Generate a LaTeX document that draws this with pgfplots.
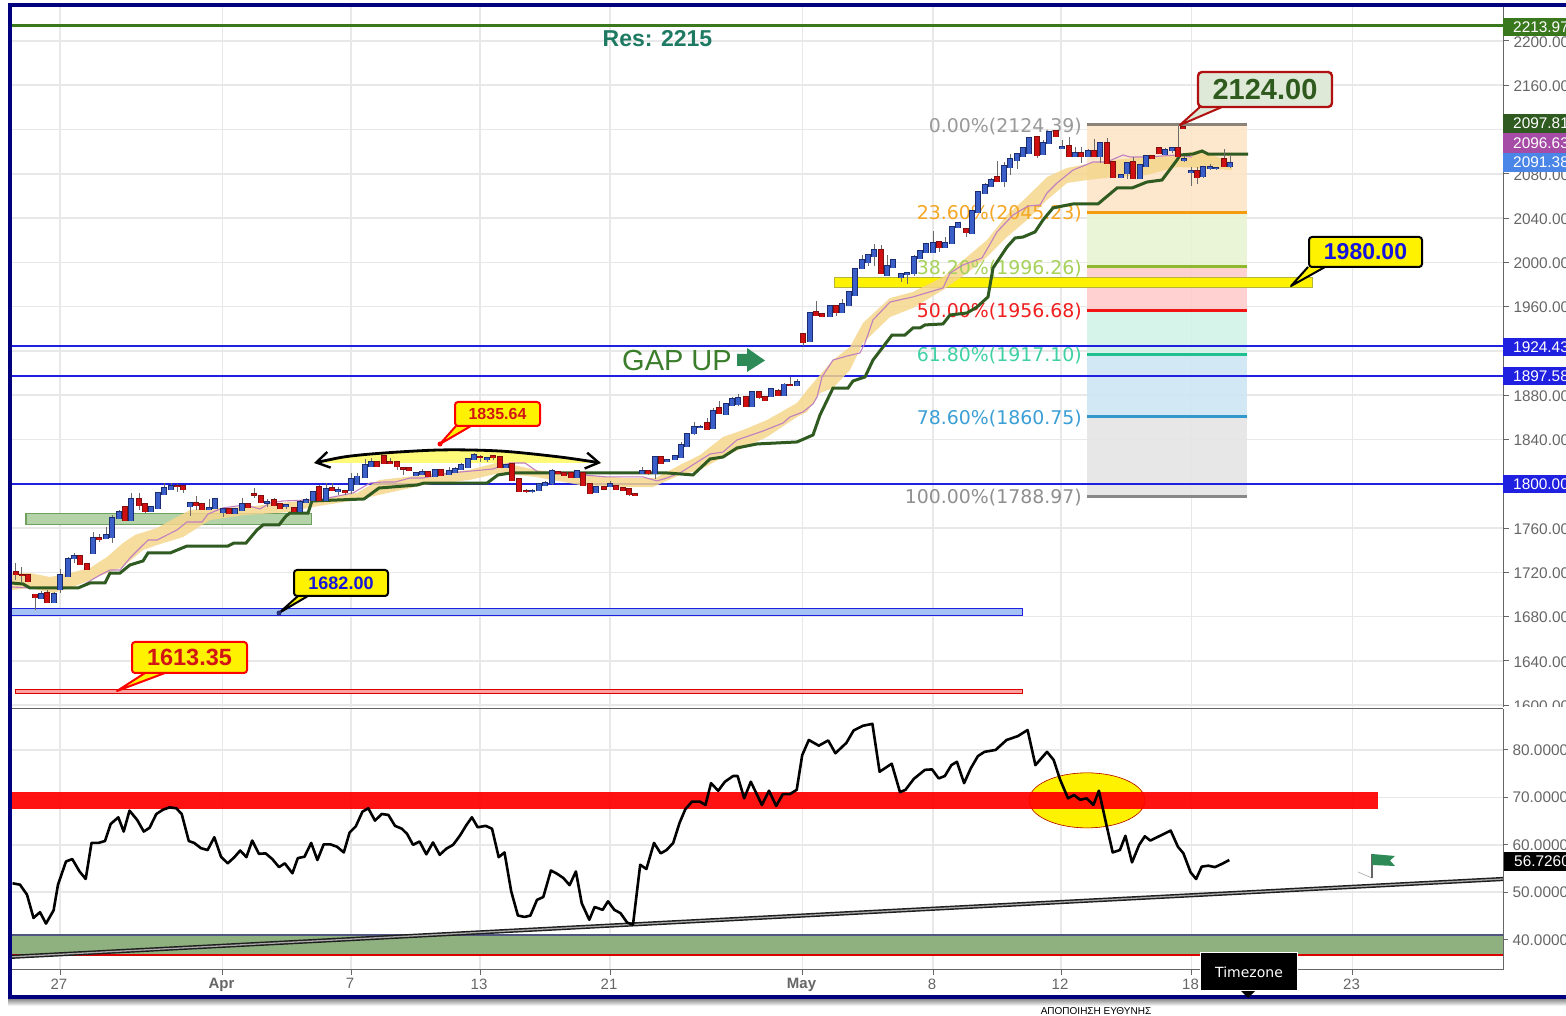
\documentclass[border=0pt]{standalone}
\usepackage{fontspec}
\setmainfont{Liberation Sans}
\newfontfamily\dejavu{DejaVu Sans}
\usepackage{pgfplots}
\usepackage{pgfplotstable}
\pgfplotsset{compat=1.18}
\usetikzlibrary{arrows.meta}
\definecolor{gridc}{HTML}{E8E8E8}
\definecolor{tickc}{HTML}{666666}
\definecolor{navyf}{HTML}{00007F}
\definecolor{wickc}{HTML}{6A6A6A}
\definecolor{bluef}{HTML}{3A5FC8}
\definecolor{bluee}{HTML}{1C2C70}
\definecolor{redf}{HTML}{D01010}
\definecolor{rede}{HTML}{801010}
\definecolor{ribbon}{HTML}{F5D68C}
\definecolor{pinkl}{HTML}{C07FC0}
\definecolor{greenl}{HTML}{2F5A20}
\definecolor{hline}{HTML}{2020E0}
\definecolor{f0}{HTML}{FDE5C8}
\definecolor{f1}{HTML}{E8F3D3}
\definecolor{f2}{HTML}{FFCCCC}
\definecolor{f3}{HTML}{D2F3E7}
\definecolor{f4}{HTML}{CFE6F5}
\definecolor{f5}{HTML}{E5E5E5}
\definecolor{l0}{HTML}{8C8278}
\definecolor{l1}{HTML}{F59B0F}
\definecolor{l2}{HTML}{8EB82E}
\definecolor{l3}{HTML}{F01414}
\definecolor{l4}{HTML}{1FBF90}
\definecolor{l5}{HTML}{3399CC}
\definecolor{l6}{HTML}{888888}
\definecolor{t0}{HTML}{999999}
\definecolor{t1}{HTML}{F5A623}
\definecolor{t2}{HTML}{A6D25A}
\definecolor{t3}{HTML}{F01E1E}
\definecolor{t4}{HTML}{3FD0A5}
\definecolor{t5}{HTML}{3B9FD6}
\definecolor{t6}{HTML}{8F8F8F}
\definecolor{resl}{HTML}{3A781E}
\definecolor{zoneg}{HTML}{B5D3A8}
\definecolor{zonege}{HTML}{6EA05F}
\definecolor{zoneb}{HTML}{A4C2F4}
\definecolor{zoner}{HTML}{FFA0A0}
\definecolor{zoney}{HTML}{B4B43C}
\definecolor{lens}{HTML}{FFFA78}
\definecolor{olive}{HTML}{8FB07F}
\definecolor{slate}{HTML}{505582}
\definecolor{trend}{HTML}{1E1E1E}
\definecolor{trendi}{HTML}{AAAAAA}
\definecolor{lpurple}{HTML}{A64CA6}
\definecolor{lblue}{HTML}{4A86E8}
\definecolor{restext}{HTML}{1E7A63}
\definecolor{gaptext}{HTML}{3A7D2A}
\definecolor{flag}{HTML}{2E8B57}
\definecolor{cdark}{HTML}{B01010}
\definecolor{cpale}{HTML}{DFE9D8}
\definecolor{ctext}{HTML}{2F5A1E}
\definecolor{cblue}{HTML}{1414DC}
\definecolor{cred}{HTML}{D21414}
\definecolor{cnavy}{HTML}{283278}
% blue candles: close above open
\pgfplotstableread{
x open high low close
41 1696.8 1703.2 1696.8 1700.5
54 1693.2 1702.3 1692.3 1700.5
60 1705 1723 1701.4 1717.6
68 1716.7 1733.9 1716.7 1732.1
74 1733 1737.5 1728.5 1734.8
93 1737.5 1756.5 1737.5 1751
106 1751 1761 1751 1753.8
112 1751.9 1771.8 1746.5 1769.1
119 1769.1 1776.3 1768.2 1774.5
131 1767.3 1791.7 1766.4 1786.3
151 1775.4 1780 1774.5 1779
158 1778.1 1792.6 1778.1 1791.7
164 1790.8 1800.7 1790.8 1796.2
171 1795.3 1800.7 1795.3 1798
190 1780 1783.6 1770.9 1782.7
209 1777.2 1786.3 1776.3 1778.1
215 1778.1 1787.2 1778.1 1786.3
223 1774.5 1778.1 1770 1777.2
235 1773.6 1778.1 1773.6 1777.2
242 1776.3 1787.2 1776.3 1781.8
267 1783.1 1786.3 1779 1784
286 1780 1781.8 1777.2 1780.9
300 1775.4 1785.4 1775.4 1783.6
306 1783.6 1787.2 1783.6 1785.4
313 1785.4 1793.5 1785.4 1792.6
326 1785.4 1800.7 1785.4 1795.3
338 1793.5 1797.1 1790 1794.4
351 1794.4 1809.8 1790.8 1804.3
357 1799.8 1809.8 1799.8 1807
365 1806.2 1822.4 1806.2 1817
371 1816.1 1823.3 1816.1 1819.7
416 1808 1810.7 1807.1 1809.8
422 1808.9 1813.4 1808.9 1810.7
435 1807.1 1813.4 1807.1 1812.5
449 1808.9 1815.2 1808.9 1811.6
455 1810.7 1815.2 1810.7 1813.4
461 1813.4 1818.8 1812.5 1817
468 1815.2 1823.3 1815.2 1822.4
474 1822.4 1827.8 1821.5 1826
487 1822.6 1824.2 1819.7 1823.3
506 1815.2 1817.9 1814.3 1817
532 1793.3 1795.3 1791.7 1794
539 1794.4 1800.7 1794.4 1799.8
545 1798.9 1802.5 1798.9 1800.7
552 1800.7 1813.4 1798.9 1811.6
577 1806.2 1812.5 1806.2 1811.6
596 1792.6 1798 1792.6 1797.1
610 1798 1802.5 1797.1 1799.8
642 1809.8 1815.2 1808.9 1811.6
655 1809.8 1824.2 1804.3 1824.2
667 1820.6 1822.4 1820.6 1821.5
675 1822.4 1826 1822.4 1825.1
681 1824.2 1837.8 1823.3 1835.1
687 1834.2 1845.9 1834.2 1845
694 1845.9 1855.8 1844.1 1851.3
700 1851 1853.1 1850.9 1851.8
713 1850.4 1868.5 1850.4 1865.8
726 1863.1 1873 1863.1 1872.1
732 1871.2 1878.4 1871.2 1876.6
738 1872.1 1881.1 1870.3 1877.5
752 1870.3 1883.8 1870.3 1882.9
771 1879.3 1886.5 1879.3 1885.6
784 1880.2 1891 1879.3 1890.1
797 1889.3 1894.7 1889.3 1892
810 1929 1955.2 1928.1 1954.3
830 1951.6 1961.5 1951.6 1960.6
842 1955.2 1966.9 1954.3 1962.4
849 1961.5 1974.2 1961.5 1973.3
855 1970.6 1995 1969.7 1994.1
862 1995 2006.7 1995 2002.2
868 2000.4 2006.7 1996.8 2006.7
874 2005.8 2016.6 1996.8 2011.2
887 1988.6 2006.7 1987.7 1996.8
893 1995.9 2003.1 1995.9 2002.2
901 1986.8 1990.4 1982.3 1989.5
907 1989.5 1991.3 1980.5 1990.4
914 1990.4 2006.7 1987.7 2004.9
920 2004 2011.2 2003.1 2010.3
926 2009.4 2017.5 2009.4 2016.6
933 2009.4 2028.4 2008.5 2017.5
945 2013.9 2023 2013.9 2017.5
952 2017.5 2032.9 2017.5 2032
958 2032 2036.5 2032 2035.6
972 2026.5 2047.3 2026.5 2046.4
978 2045.5 2064.5 2045.5 2063.6
985 2062.7 2071.7 2062.7 2069.9
991 2069 2076.3 2069 2074.4
1004 2073.5 2090.7 2068.1 2087.1
1010 2086.2 2097.9 2079 2093.4
1017 2092.5 2098.8 2084.4 2097.9
1023 2096.1 2104.2 2096.1 2103.3
1029 2098.8 2113.3 2098.8 2112.4
1043 2097.9 2110.6 2097.9 2107.9
1049 2107.9 2118.7 2107 2117.8
1062 2103.3 2110.6 2102.4 2104.2
1075 2096.1 2104.2 2096.1 2098.8
1088 2096.1 2102.5 2096.1 2100.6
1100 2096.1 2108.8 2089.8 2107.9
1121 2077.1 2079 2077.1 2079
1127 2080.8 2090.7 2075.3 2089.8
1140 2076.2 2088 2075.3 2088
1146 2087.1 2097 2087.1 2096.1
1165 2097.9 2103.3 2097 2101.5
1172 2101.5 2104.2 2098.8 2103.3
1184 2092.5 2096.1 2090.7 2093.4
1191 2081.6 2086.2 2069 2082.5
1203 2078 2086.2 2076.2 2086.2
1210 2085.5 2088.9 2083.4 2086.2
1216 2085 2086.2 2083.4 2085.7
1230 2087.1 2096.1 2085.3 2089.8
}\upbars
% red candles: close below open
\pgfplotstableread{
x open high low close
16 1720.3 1728.4 1713.1 1718.5
22 1718 1724.9 1711.3 1717.2
28 1717.6 1718.5 1711.3 1712.2
35 1700.4 1700.4 1686 1697.7
47 1701.4 1704.1 1693.2 1693.2
80 1734.8 1735.7 1727.6 1727.6
87 1727.6 1727.6 1723 1723
99 1751 1754.6 1747.4 1750.1
125 1779 1779 1767.3 1767.3
139 1786.3 1791.7 1776.3 1780.9
145 1781.8 1782.7 1773.6 1775.4
177 1798.5 1799.8 1792.6 1797.6
183 1798.1 1799 1791.7 1795.3
196 1782.7 1789 1776.3 1780.9
202 1781.8 1782.7 1776.3 1777.2
229 1777.2 1778.1 1772.7 1773.6
248 1781.8 1782.7 1778.1 1779
254 1791.2 1796.2 1787.2 1790.3
261 1789.4 1790.3 1782.7 1783.6
274 1785.4 1787.2 1780 1780.9
280 1781.8 1782.7 1777.2 1778.1
294 1778.1 1779 1774.5 1775.4
319 1797.1 1798.9 1785.4 1785.4
332 1796.2 1800.7 1793.5 1794.4
345 1793.5 1793.5 1790 1792.6
377 1819.7 1820.6 1815.2 1816.1
384 1825.1 1826 1818.8 1818.8
390 1819.7 1823.3 1817.9 1818.8
397 1819.7 1819.7 1812.5 1816.1
403 1814.7 1815.2 1808 1813.8
409 1814.3 1814.3 1811.6 1812.5
428 1810.7 1811.6 1806.2 1807.1
441 1812.5 1813.4 1807.1 1808
480 1824.6 1826 1819.7 1823.8
493 1825.1 1825.1 1821.5 1824.2
500 1824.2 1825.1 1815.2 1815.2
512 1817.9 1818.8 1803.4 1803.4
519 1804.3 1805.2 1792.6 1793.5
526 1794 1795.3 1791.7 1793.1
558 1810.7 1811.6 1809 1809.8
564 1809.8 1809.8 1807.1 1808
571 1809.8 1810.7 1805.3 1806.2
583 1809.8 1809.8 1798 1798.9
590 1799.8 1800.7 1790.8 1791.7
604 1797.1 1797.1 1794.4 1795.7
616 1798 1799 1794.4 1795.3
623 1796.2 1797.1 1793.5 1794.4
629 1795.3 1796.2 1789 1790.8
635 1790.8 1790.8 1789.9 1790
648 1811.6 1812.5 1808 1809.8
661 1824.2 1825.1 1817.9 1818.8
707 1855 1859.4 1849.5 1849.5
719 1868.5 1874.8 1863.1 1864
746 1878.4 1879.3 1869.4 1870.3
759 1882.9 1883.8 1876.6 1878.4
765 1878.4 1879.3 1874.8 1875.7
778 1883.8 1885.6 1879.3 1880.2
790 1889.7 1896.5 1888.4 1888.8
803 1935.3 1936.2 1924.5 1928.1
816 1955.2 1965.1 1951.6 1952.5
822 1953.4 1954.3 1950.7 1951.6
836 1960.6 1961.5 1951.6 1955.2
881 2011.2 2015.7 1990.4 1990.4
939 2018.4 2019.3 2009.4 2013.9
966 2030.2 2031.1 2022.9 2027.4
997 2077.1 2091.6 2073.5 2073.5
1037 2113.3 2114.2 2094.3 2097
1056 2118.7 2119.6 2113.3 2114.2
1069 2105.1 2113.3 2095.2 2096.1
1081 2098.8 2104.2 2089.8 2096.1
1094 2100.6 2111.5 2096.1 2096.1
1107 2107.9 2112.4 2088.9 2089.8
1113 2090.7 2091.6 2076.2 2077.1
1133 2090.7 2095.2 2076.2 2076.2
1152 2096.1 2096.1 2093.4 2094.3
1159 2103.3 2103.3 2097.9 2098.8
1178 2103.3 2123.2 2096.1 2096.1
1183 2122.3 2122.3 2121.4 2121.4
1197 2082.5 2086.2 2070.8 2077.1
1224 2093.4 2102.4 2086.2 2087.1
}\downbars
% candle drawing: table, top column, bottom column, fill, edge
\newcommand{\candles}[5]{%
\addplot[forget plot,draw=none,mark=none,error bars/.cd,y dir=both,y explicit,error mark=none,error bar style={draw=wickc,line width=1pt}]
 table[x=x,y=#2,y error plus expr=\thisrow{high}-\thisrow{#2},y error minus expr=\thisrow{#2}-\thisrow{low}]{#1};
\addplot[forget plot,draw=none,mark=none,error bars/.cd,y dir=both,y explicit,error mark=none,error bar style={draw=#5,line width=5.2pt}]
 table[x=x,y=#3,y error plus expr=\thisrow{#2}-\thisrow{#3}+0.5,y error minus expr=0.5]{#1};
\addplot[forget plot,draw=none,mark=none,error bars/.cd,y dir=both,y explicit,error mark=none,error bar style={draw=#4,line width=3.4pt}]
 table[x=x,y=#3,y error plus expr=\thisrow{#2}-\thisrow{#3}-0.1,y error minus expr=-0.1]{#1};
}
\begin{document}
\begin{tikzpicture}
\path[use as bounding box,fill=white] (0,0) rectangle (1566pt,1016pt);
\begin{axis}[name=main,at={(12pt,309pt)},anchor=south west,scale only axis,width=1491pt,height=700pt,
 xmin=12,xmax=1503,ymin=1598.4,ymax=2230.7,clip=true,
 axis y line=right,axis x line=bottom,axis line style={-,draw=tickc,line width=1pt},
 x axis line style={draw=none},
 xtick={60,222.5,351,480,610,802.5,933,1061,1191.5,1352.5},xticklabels={},
 xtick style={draw=none},
 ytick={1600,1640,1680,1720,1760,1800,1840,1880,1920,1960,2000,2040,2080,2120,2160,2200},
 yticklabels={1600.00,1640.00,1680.00,1720.00,1760.00,,1840.00,1880.00,,1960.00,2000.00,2040.00,2080.00,,2160.00,2200.00},
 grid=major,grid style={gridc,line width=1.6pt},
 tick style={tickc,line width=1pt},major tick length=6pt,
 tick align=outside,
 yticklabel style={font=\fontsize{15.4}{15.4}\selectfont,text=tickc,anchor=west,xshift=1pt,yshift=-1pt},
]
% Fibonacci retracement zones
\addplot[forget plot,draw=none,fill=f0,fill opacity=.9] coordinates {(1087,2124.39)(1247,2124.39)(1247,2045.23)(1087,2045.23)} -- cycle;
\addplot[forget plot,draw=none,fill=f1,fill opacity=.9] coordinates {(1087,2045.23)(1247,2045.23)(1247,1996.26)(1087,1996.26)} -- cycle;
\addplot[forget plot,draw=none,fill=f2,fill opacity=.9] coordinates {(1087,1996.26)(1247,1996.26)(1247,1956.68)(1087,1956.68)} -- cycle;
\addplot[forget plot,draw=none,fill=f3,fill opacity=.9] coordinates {(1087,1956.68)(1247,1956.68)(1247,1917.10)(1087,1917.10)} -- cycle;
\addplot[forget plot,draw=none,fill=f4,fill opacity=.9] coordinates {(1087,1917.10)(1247,1917.10)(1247,1860.75)(1087,1860.75)} -- cycle;
\addplot[forget plot,draw=none,fill=f5,fill opacity=.9] coordinates {(1087,1860.75)(1247,1860.75)(1247,1788.97)(1087,1788.97)} -- cycle;
% resistance / support lines and zones
\addplot[forget plot,resl,line width=3pt] coordinates {(12,2213.97)(1503,2213.97)};
\addplot[forget plot,hline,line width=1.5pt] coordinates {(12,1924.43)(1503,1924.43)};
\addplot[forget plot,hline,line width=1.5pt] coordinates {(12,1897.58)(1503,1897.58)};
\addplot[forget plot,hline,line width=1.5pt] coordinates {(12,1800)(1503,1800)};
\addplot[forget plot,draw=zonege,line width=1pt,fill=zoneg] coordinates {(26,1773.6)(311,1773.6)(311,1762.8)(26,1762.8)} -- cycle;
\addplot[forget plot,draw=hline,line width=1pt,fill=zoneb] coordinates {(12,1687.8)(1022,1687.8)(1022,1680.6)(12,1680.6)} -- cycle;
\addplot[forget plot,draw=red!85!black,line width=1pt,fill=zoner] coordinates {(16,1614.6)(1022,1614.6)(1022,1611)(16,1611)} -- cycle;
\addplot[forget plot,draw=zoney,line width=1pt,fill=yellow] coordinates {(834,1985.9)(1312,1985.9)(1312,1976.9)(834,1976.9)} -- cycle;
% curved lens
\addplot[forget plot,draw=none,fill=lens] coordinates {(312,1818.8)(360,1826)(437,1830.5)(500,1829.6)(560,1824.2)(603,1818.8)} -- cycle;
% ribbon
\addplot[forget plot,draw=none,fill=ribbon,fill opacity=.85] coordinates {
(12,1719.4)(30,1719.4)(50,1715.8)(70,1719.4)(90,1724)(107,1733.9)(123,1746.5)(135,1753.8)(157,1760.1)(177,1770)(190,1776.3)(210,1778.1)(245,1779)(290,1783.6)(312,1785.4)(357,1791.7)(379,1803.4)(424,1808)(469,1812.5)(500,1819.7)(536,1812.5)(580,1808)(625,1805.3)(656,1805.3)(680,1817)(700,1826)(723,1842.3)(743,1848.6)(767,1857.6)(797,1873)(807,1884.7)(820,1898.3)(833,1911.8)(850,1923.6)(863,1945.3)(890,1967.8)(913,1973.3)(943,1986.8)(967,2004.9)(987,2020.2)(1007,2042.8)(1027,2059.1)(1047,2077.1)(1067,2085.3)(1087,2088.9)(1113,2092.5)(1147,2095.2)(1177,2097)(1200,2101.5)(1232,2089.8)
(1232,2083.4)(1200,2085.3)(1177,2086.2)(1147,2079)(1113,2077.1)(1087,2074.4)(1067,2071.7)(1047,2056.4)(1027,2038.3)(1007,2023)(987,2004.9)(967,1990.4)(943,1975.1)(913,1958.8)(890,1950.7)(863,1927.2)(850,1902.8)(833,1886.5)(820,1882)(807,1864.9)(797,1860.4)(767,1842.3)(743,1832.4)(723,1824.2)(700,1812.5)(680,1808)(653,1797.1)(625,1797.1)(580,1798.9)(536,1806.2)(500,1809.8)(469,1803.4)(424,1798.9)(379,1790)(357,1785.4)(312,1779)(290,1774.5)(245,1771.8)(210,1767.3)(183,1751.9)(157,1744.7)(143,1740.2)(123,1724.9)(107,1719.4)(83,1710.4)(70,1705.9)(53,1701.4)(30,1705.9)(12,1704.1)} -- cycle;
% Fibonacci levels
\addplot[forget plot,l0,line width=3pt] coordinates {(1087,2124.39)(1247,2124.39)};
\addplot[forget plot,l1,line width=3pt] coordinates {(1087,2045.23)(1247,2045.23)};
\addplot[forget plot,l2,line width=3pt] coordinates {(1087,1996.26)(1247,1996.26)};
\addplot[forget plot,l3,line width=3pt] coordinates {(1087,1956.68)(1247,1956.68)};
\addplot[forget plot,l4,line width=3pt] coordinates {(1087,1917.10)(1247,1917.10)};
\addplot[forget plot,l5,line width=3pt] coordinates {(1087,1860.75)(1247,1860.75)};
\addplot[forget plot,l6,line width=3pt] coordinates {(1087,1788.97)(1247,1788.97)};
\begin{scope}[every node/.style={anchor=east,inner sep=0pt,yshift=-1.6pt,font=\dejavu\fontsize{18.9}{18.9}\selectfont}]
\node[text=t0] at (axis cs:1082,2124.39) {0.00\%(2124.39)};
\node[text=t1] at (axis cs:1082,2045.23) {23.60\%(2045.23)};
\node[text=t2] at (axis cs:1082,1996.26) {38.20\%(1996.26)};
\node[text=t3] at (axis cs:1082,1956.68) {50.00\%(1956.68)};
\node[text=t4] at (axis cs:1082,1917.10) {61.80\%(1917.10)};
\node[text=t5] at (axis cs:1082,1860.75) {78.60\%(1860.75)};
\node[text=t6] at (axis cs:1082,1788.97) {100.00\%(1788.97)};
\end{scope}
% pink average
\addplot[forget plot,pinkl,line width=1.1pt] coordinates {(12,1706.8)(30,1705.9)(78,1705.9)(100,1717.6)(110,1722.1)(120,1722.1)(130,1733)(148,1749.2)(157,1749.2)(177,1758.3)(187,1765.5)(202,1765.5)(208,1772.7)(223,1778.2)(245,1780.9)(260,1777.3)(270,1782.7)(283,1784.5)(310,1785.4)(323,1786.3)(353,1791.7)(370,1800.7)(383,1801.6)(395,1801.6)(410,1805.2)(423,1805.2)(450,1809.8)(483,1812.5)(493,1813.4)(510,1818.8)(525,1818.8)(538,1810.7)(557,1809.8)(583,1808)(607,1806.2)(643,1806.2)(657,1802.6)(667,1805.3)(680,1809.8)(710,1826.9)(723,1828.7)(737,1839.6)(763,1847.7)(783,1854.9)(790,1860.4)(803,1864.9)(813,1872.1)(817,1878.4)(822,1896.5)(833,1911.8)(847,1915.4)(860,1918.2)(865,1927.2)(873,1948)(890,1964.2)(913,1968.8)(943,1976.9)(950,1990.4)(963,1997.7)(982,2004)(997,2027.5)(1013,2042.8)(1028,2050.9)(1040,2051.9)(1047,2062.7)(1057,2071.7)(1073,2083.4)(1093,2090.7)(1107,2090.7)(1123,2097)(1130,2095.2)(1147,2095.2)(1177,2097)(1192,2095.2)};
% green average
\addplot[forget plot,greenl,line width=3pt] coordinates {(12,1710.4)(23,1709.5)(30,1705.9)(78,1705.9)(90,1710.4)(105,1710.4)(110,1719.4)(120,1719.4)(130,1726.7)(143,1730.3)(148,1737.5)(170,1737.5)(187,1743.8)(228,1743.8)(234,1746.5)(246,1746.5)(257,1758.3)(263,1762.8)(279,1762.8)(286,1770.9)(290,1773.6)(308,1773.6)(312,1784.5)(364,1786.3)(379,1796.2)(417,1798.9)(424,1800.7)(487,1800.7)(498,1808)(511,1809.8)(667,1809.8)(693,1808)(710,1822.4)(723,1824.2)(737,1832.4)(757,1836)(797,1837.8)(813,1844.1)(820,1862.2)(833,1886.5)(848,1886.5)(853,1892.9)(865,1896.5)(873,1911.8)(883,1923.6)(892,1934.4)(905,1934.4)(913,1940.8)(920,1940.8)(925,1943.5)(943,1944.4)(950,1952.5)(967,1954.3)(977,1959.7)(988,1968.8)(993,1994.9)(1007,2013.9)(1015,2022)(1023,2022.9)(1035,2027.5)(1043,2038.3)(1053,2049.2)(1073,2052.8)(1098,2052.8)(1117,2067.2)(1132,2067.2)(1147,2072.6)(1162,2074.4)(1177,2092.5)(1180,2097)(1193,2097.9)(1202,2100.6)(1208,2097.9)(1248,2097.9)};
% candles
\candles{\upbars}{close}{open}{bluef}{bluee}
\candles{\downbars}{open}{close}{redf}{rede}
% arc with arrows
\addplot[forget plot,smooth,black,line width=2.8pt,{Straight Barb[length=13pt,width=16pt,line width=2.4pt]}-{Straight Barb[length=13pt,width=16pt,line width=2.4pt]}] coordinates {(314,1818.8)(360,1826)(437,1830.5)(500,1829.6)(560,1824.2)(601,1818.8)};
\end{axis}
\fill[white] (1504.5pt,0pt) rectangle (1566pt,308.5pt);
% lower panel
\begin{axis}[name=rsi,at={(12pt,46pt)},anchor=south west,scale only axis,width=1491pt,height=261pt,
 xmin=12,xmax=1503,ymin=33.62,ymax=88.63,
 axis background/.style={fill=white},
 axis y line=right,axis x line=bottom,axis line style={-,draw=tickc,line width=1pt},
 xtick={60,222.5,351,480,610,802.5,933,1061,1191.5,1352.5},
 xticklabels={27,\textbf{Apr},7,13,21,\textbf{May},8,12,18,23},
 ytick={40,50,60,70,80},
 grid=major,grid style={gridc,line width=1.6pt},
 tick style={tickc,line width=1pt},major tick length=5pt,tick align=outside,
 xticklabel style={font=\fontsize{15}{15}\selectfont,text=tickc,xshift=-1pt,yshift=0pt},
 yticklabel style={font=\fontsize{15.4}{15.4}\selectfont,text=tickc,/pgf/number format/fixed,/pgf/number format/fixed zerofill,/pgf/number format/precision=4,/pgf/number format/assume math mode=true,anchor=west,xshift=1pt},
]
\draw[yellow,fill=yellow] (axis cs:1087,69.37) ellipse [x radius=58,y radius=5.8];
\draw[red!70!black,line width=.6pt] (axis cs:1087,69.37) ellipse [x radius=58,y radius=5.8];
\addplot[forget plot,draw=none,fill=red,fill opacity=.93] coordinates {(12,71.2)(1378,71.2)(1378,67.6)(12,67.6)} -- cycle;
\addplot[forget plot,draw=none,fill=olive] coordinates {(12,41)(1503,41)(1503,36.8)(12,36.8)} -- cycle;
\addplot[forget plot,slate,line width=2pt] coordinates {(12,41)(1503,41)};
\addplot[forget plot,red!85!black,line width=1.6pt] coordinates {(12,36.8)(1503,36.8)};
\addplot[forget plot,trend,line width=4.2pt] coordinates {(12,36.4)(1503,52.8)};
\addplot[forget plot,trendi,line width=1.3pt] coordinates {(12,36.4)(1503,52.8)};
\addplot[forget plot,black,line width=2.6pt,line join=round] coordinates {
(12.5,51.9)(20,51.6)(27,49.5)(33.5,44.6)(40,45.8)(46,43.4)(53.6,46.2)(58,51.6)(66,56.5)(72.3,57)(79.5,54.4)(85.7,52.8)(91.5,60.4)(98.2,60.4)(105,60.8)(110.7,64.4)(118.3,65.8)(123.7,62.8)(129.5,67.2)(137,65.3)(143.8,62.8)(149.6,63.6)(156.3,66.5)(163,67.4)(169.6,67.9)(176.3,67.7)(181.7,66.5)(188.8,60.8)(194.2,60.4)(200.9,59.3)(207.6,58.9)(214.3,61.6)(221,57.5)(227.7,56.1)(234.4,57.4)(240.2,58.8)(246.4,57.4)(252.2,60.9)(258.9,58.1)(265.6,58.2)(272.3,57)(279,55.3)(284.8,56.1)(292.4,54)(297.8,57.2)(304.5,57.5)(311.2,60.4)(317.4,56.8)(323.7,60.1)(330.4,60.1)(337,59.6)(343.8,58.4)(349.6,62.6)(355.8,63.9)(362.5,67)(368.3,67.7)(375,65.1)(381.7,66.5)(388.4,66.3)(395,64)(401.8,63.4)(407.1,62.3)(413,60)(419.6,60.7)(426.3,58)(433,60.5)(439.7,57.9)(446.4,59.2)(453.1,60)(459.8,61.9)(466.5,64.2)(471.9,65.8)(477.7,63.7)(485.7,64)(492,63.4)(498.7,57.4)(504.5,58.4)(511.2,50.2)(517.9,45.1)(524.6,44.8)(530.4,45.1)(537,48.4)(543.3,49)(550.9,54.6)(557.1,53.9)(563.4,53)(569.6,51.5)(575.9,54.4)(581.7,47.7)(589.3,44.2)(594.6,46.9)(602.7,46.3)(608,48.1)(614.3,46.3)(620.5,45.6)(627.2,43.6)(633,43.2)(640.2,55.8)(646.4,54.9)(654,60.4)(660.7,58.2)(666.5,58.9)(673.2,60.4)(679.5,64.6)(685.3,67.5)(692,69.1)(700,69.1)(705.5,68.4)(711,73)(718.2,71.4)(724.9,73.3)(733.1,74.5)(737.6,74.5)(744.2,69.8)(750.8,73.3)(761.9,68.4)(769,71.4)(776.2,68.2)(782.9,70.7)(790,70.7)(796.7,71.6)(802.2,78.9)(808.8,82.1)(818.8,80.9)(828.2,82)(835.4,79.3)(846.4,81.5)(853.6,84.1)(863,85.1)(872.4,85.5)(879.6,75.4)(891.7,77.1)(900,71.1)(905.5,71.6)(913.8,73.9)(924.9,75.8)(932,75.9)(938.7,74)(944.8,74.5)(951.4,76.8)(956.9,77.5)(964.1,73)(970.7,76.1)(977.9,78.7)(984.5,79.6)(995.6,80)(1006.6,82.1)(1017.7,82.9)(1027.6,84.2)(1035.4,76.8)(1047,79.6)(1053.6,77.9)(1060.2,73.7)(1068,69.8)(1074,70.5)(1080.1,69.5)(1086.7,69.8)(1093.4,68.4)(1098.9,71.4)(1106,64.6)(1112.7,58.4)(1119.9,58.9)(1125.4,61.9)(1132,56.3)(1139.2,60)(1144.8,61.8)(1150.3,60.9)(1170.7,63)(1177.9,59.6)(1183.4,58.2)(1190.6,54.2)(1196.1,52.8)(1201.7,55.4)(1208.3,55.6)(1214.9,55.3)(1222.1,56)(1229.3,56.8)};
\end{axis}
% annotations in page pixels
\begin{scope}[x=1pt,y=-1pt,shift={(0,1016pt)}]
\draw[tickc,line width=1pt] (12,709)--(1503,709);
% frame
\shade[top color=black!45,bottom color=white] (8,999) rectangle (1566,1006);
\draw[navyf,line width=4pt] (1570,5)--(10,5)--(10,997.5)--(1570,997.5);
% right labels
\fill[resl] (1503,18) rectangle (1566,36);
\fill[greenl] (1503,114) rectangle (1566,133);
\fill[lpurple] (1503,133) rectangle (1566,153);
\fill[lblue] (1503,153) rectangle (1566,172);
\fill[hline] (1503,338) rectangle (1566,356);
\fill[hline] (1503,367) rectangle (1566,385);
\fill[hline] (1503,475) rectangle (1566,493);
\fill[black] (1504,852) rectangle (1566,871);
\begin{scope}[every node/.style={anchor=west,inner sep=0pt,text=white,font=\fontsize{15.4}{15.4}\selectfont}]
\node at (1513,27) {2213.97};
\node at (1513,123) {2097.81};
\node at (1513,143) {2096.63};
\node at (1513,162.5) {2091.38};
\node at (1513,347) {1924.43};
\node at (1513,376) {1897.58};
\node at (1513,484) {1800.00};
\node at (1514,861.5) {56.7260};
\end{scope}
% text
\node[text=restext,font=\bfseries\fontsize{23}{23}\selectfont,inner sep=0pt] at (657.5,39) {Res: 2215};
\node[text=gaptext,font=\fontsize{29}{29}\selectfont,inner sep=0pt] at (677,361) {GAP UP};
\fill[flag] (737,354)--(747,354)--(747,348)--(765,360.5)--(747,372)--(747,366)--(737,366)--cycle;
% callouts
\draw[cdark,line width=2pt,fill=cpale,line join=round] (1200,107)--(1180,125)--(1222,107);
\node[draw=cdark,line width=2.4pt,rounded corners=4pt,fill=cpale,minimum width=134pt,minimum height=35pt,inner sep=0pt,text=ctext,font=\bfseries\fontsize{29}{29}\selectfont] at (1265,89.5) {2124.00};
\draw[black,line width=2pt,fill=yellow,line join=round] (1308,267)--(1291,286)--(1325,267);
\node[draw=black,line width=2pt,rounded corners=3pt,fill=yellow,minimum width=113pt,minimum height=30pt,inner sep=0pt,text=cblue,font=\bfseries\fontsize{23}{23}\selectfont] at (1365.5,252) {1980.00};
\draw[red,line width=2pt,fill=yellow,line join=round] (456,426)--(440,444)--(471,426);
\fill[red] (440,444) circle (2.5);
\node[draw=red,line width=2pt,rounded corners=3pt,fill=yellow,minimum width=85pt,minimum height=24pt,inner sep=0pt,text=cred,font=\bfseries\fontsize{16}{16}\selectfont] at (497.5,414) {1835.64};
\draw[black,line width=2pt,fill=yellow,line join=round] (298,596)--(279,613)--(308,596);
\fill[cnavy] (279,613) circle (2.5);
\node[draw=black,line width=2pt,rounded corners=3pt,fill=yellow,minimum width=94pt,minimum height=26pt,inner sep=0pt,text=cblue,font=\bfseries\fontsize{18}{18}\selectfont] at (341,583) {1682.00};
\draw[red,line width=2pt,fill=yellow,line join=round] (145,673)--(117,691)--(165,673);
\node[draw=red,line width=2pt,rounded corners=3pt,fill=yellow,minimum width=115pt,minimum height=31pt,inner sep=0pt,text=cred,font=\bfseries\fontsize{23.5}{23.5}\selectfont] at (189.5,657.5) {1613.35};
% flag
\draw[gray!60,line width=.7pt] (1358,872)--(1372,878);
\draw[tickc,line width=1.2pt] (1372,878)--(1372,854);
\fill[flag] (1372,854)--(1395,856)--(1390,860.5)--(1395,866)--(1372,865)--cycle;
% timezone
\fill[black] (1240,990)--(1256,990)--(1248,998)--cycle;
\node[draw=white,line width=1pt,fill=black,text=white,minimum width=97pt,minimum height=38pt,inner sep=0pt,font=\dejavu\fontsize{14}{14}\selectfont] at (1249,972) {Timezone};
\node[inner sep=0pt,text=black,font=\fontsize{10}{10}\selectfont] at (1096,1011) {ΑΠΟΠΟΙΗΣΗ ΕΥΘΥΝΗΣ};
\end{scope}
\end{tikzpicture}
\end{document}
